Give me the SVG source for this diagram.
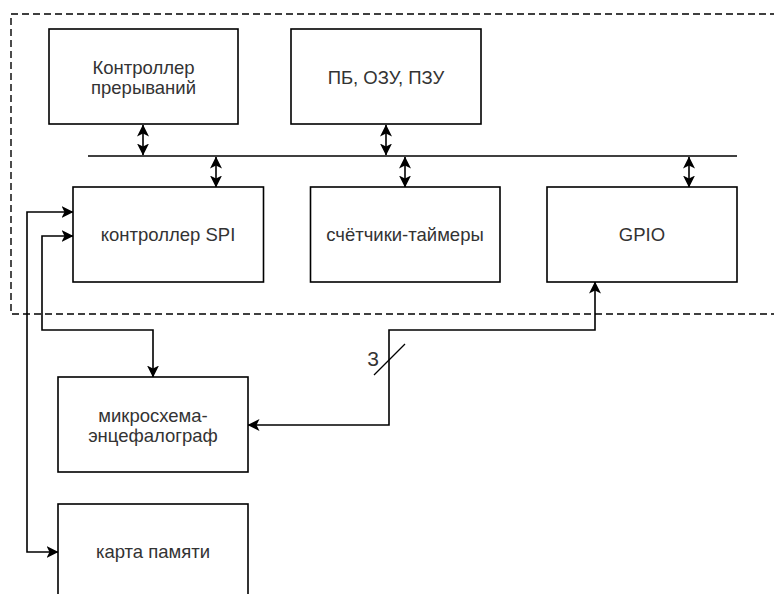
<svg xmlns="http://www.w3.org/2000/svg" width="774" height="594" viewBox="0 0 774 594">
<defs>
<style>
.box{fill:#fff;stroke:#000;stroke-width:1.6}
.lbl{font-family:"Liberation Sans",Arial,Helvetica,sans-serif;font-size:18.5px;fill:#333;text-anchor:middle}
.ln{fill:none;stroke:#000;stroke-width:1.6}
.dbl{fill:none;stroke:#000;stroke-width:1.6;marker-start:url(#ah);marker-end:url(#ah)}
</style>
<marker id="ah" viewBox="0 0 12 13" refX="11.5" refY="6.5" markerWidth="12" markerHeight="13" orient="auto-start-reverse" markerUnits="userSpaceOnUse">
<path d="M0,0.5 L12,6.5 L0,12.5 L3,6.5 Z" fill="#000"/>
</marker>
</defs>
<rect x="11" y="14" width="800" height="300" fill="none" stroke="#000" stroke-width="1.4" stroke-dasharray="7 4"/>
<g id="connectors">
<path class="ln" d="M88,156 H737"/>
<path class="dbl" d="M143,125 V155"/>
<path class="dbl" d="M386,125 V155"/>
<path class="dbl" d="M216,157 V187"/>
<path class="dbl" d="M405,157 V187"/>
<path class="dbl" d="M689,157 V187"/>
<path class="dbl" d="M73,212 H27 V552 H58"/>
<path class="dbl" d="M73,236 H42 V330 H153 V377"/>
<path class="dbl" d="M595,282 V330 H389 V425 H248"/>
<path d="M374,375 L405,344" stroke="#000" stroke-width="1.3" fill="none"/>
<text x="373" y="366" class="lbl" style="font-size:21px">3</text>
</g>
<g id="n-int">
<rect class="box" x="49" y="29" width="189" height="95"/>
<text class="lbl" x="143.5" y="74">Контроллер</text>
<text class="lbl" x="143.5" y="94">прерываний</text>
</g>
<g id="n-mem">
<rect class="box" x="291" y="29" width="190" height="95"/>
<text class="lbl" x="386" y="84">ПБ, ОЗУ, ПЗУ</text>
</g>
<g id="n-spi">
<rect class="box" x="73" y="187" width="190.5" height="95"/>
<text class="lbl" x="168" y="241">контроллер SPI</text>
</g>
<g id="n-tim">
<rect class="box" x="310.5" y="187" width="189.5" height="95"/>
<text class="lbl" x="405" y="241">счётчики-таймеры</text>
</g>
<g id="n-gpio">
<rect class="box" x="547" y="187" width="190" height="95"/>
<text class="lbl" x="642" y="241">GPIO</text>
</g>
<g id="n-eeg">
<rect class="box" x="58" y="377" width="190" height="95"/>
<text class="lbl" x="153" y="422">микросхема-</text>
<text class="lbl" x="153" y="442">энцефалограф</text>
</g>
<g id="n-card">
<rect class="box" x="58" y="504" width="190" height="95"/>
<text class="lbl" x="153" y="558">карта памяти</text>
</g>
</svg>
